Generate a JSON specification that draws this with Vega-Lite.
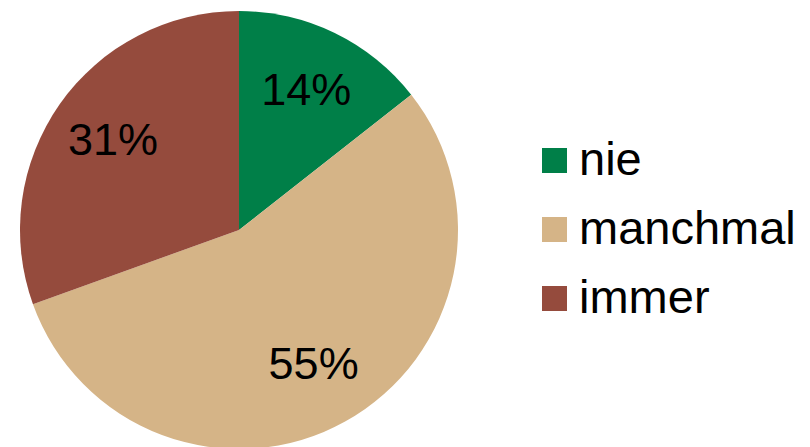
{
  "$schema": "https://vega.github.io/schema/vega-lite/v6.json",
  "width": 478,
  "height": 460,
  "padding": 0,
  "autosize": {"type": "pad"},
  "background": "white",
  "config": {"view": {"stroke": null}, "font": "Liberation Sans"},
  "data": {"values": [
    {"category": "nie", "value": 14.4, "label": "14%"},
    {"category": "manchmal", "value": 55.1, "label": "55%"},
    {"category": "immer", "value": 30.5, "label": "31%"}
  ]},
  "encoding": {
    "theta": {"field": "value", "type": "quantitative", "stack": true},
    "order": {"field": "order", "type": "quantitative"}
  },
  "transform": [{"window": [{"op": "row_number", "as": "order"}]}],
  "layer": [
    {
      "mark": {"type": "arc", "outerRadius": 219, "stroke": null},
      "encoding": {
        "color": {
          "field": "category", "type": "nominal",
          "scale": {"domain": ["nie", "manchmal", "immer"], "range": ["#007F48", "#D5B487", "#954B3D"]},
          "sort": ["nie", "manchmal", "immer"],
          "legend": {
            "title": null, "orient": "none", "legendX": 531, "legendY": 137,
            "symbolType": "square", "symbolSize": 625, "symbolStrokeWidth": 0,
            "labelFontSize": 47, "labelFont": "Liberation Sans", "labelColor": "black",
            "labelOffset": 1, "rowPadding": 21, "labelLimit": 400
          }
        }
      }
    },
    {
      "mark": {"type": "text", "radius": 154, "fontSize": 45, "font": "Liberation Sans", "color": "black", "align": "center", "baseline": "middle"},
      "encoding": {"text": {"field": "label"}}
    }
  ]
}
